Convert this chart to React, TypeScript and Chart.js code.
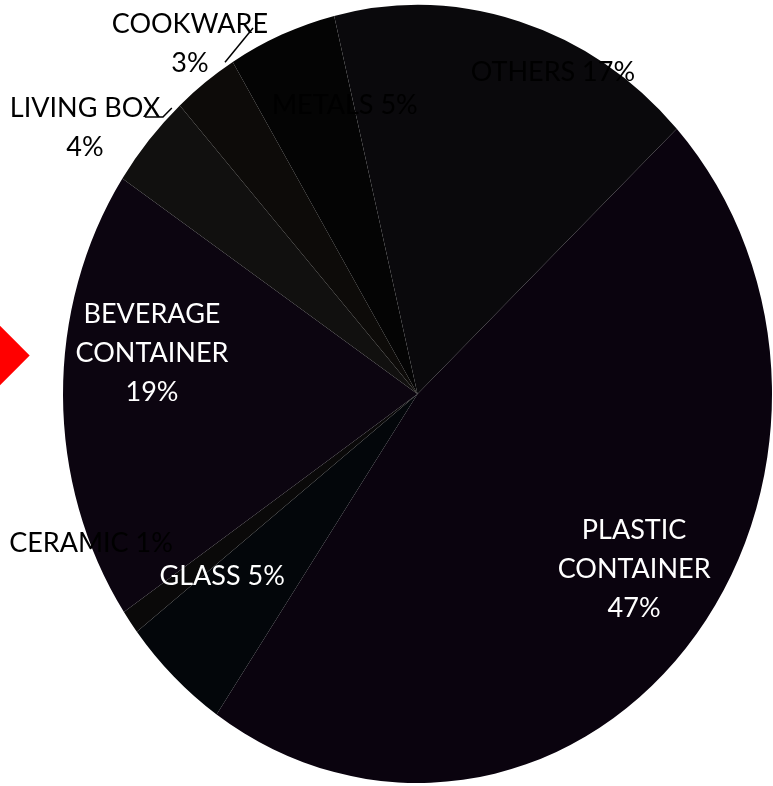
import React, { useEffect, useRef } from "react";
import { Chart, registerables } from "chart.js";

Chart.register(...registerables);

const categories = [
  "PLASTIC CONTAINER",
  "GLASS",
  "CERAMIC",
  "BEVERAGE CONTAINER",
  "LIVING BOX",
  "COOKWARE",
  "METALS",
  "OTHERS",
];
const shares = [47, 5, 1, 19, 4, 3, 5, 17];
const labelLines = [
  ["PLASTIC", "CONTAINER", "47%"],
  ["GLASS 5%"],
  ["CERAMIC 1%"],
  ["BEVERAGE", "CONTAINER", "19%"],
  ["LIVING BOX", "4%"],
  ["COOKWARE", "3%"],
  ["METALS 5%"],
  ["OTHERS 17%"],
];
const sliceColors = [
  "#0a030e",
  "#03060a",
  "#0a0909",
  "#0c0510",
  "#11100f",
  "#0d0b09",
  "#040404",
  "#0a090c",
];
const labelColors = ["#ffffff", "#ffffff", "#000000", "#ffffff", "#000000", "#000000", "#000000", "#000000"];

// label block centres, as fractions of the pie's horizontal / vertical radius
const labelAnchors = [
  [0.611, 0.445],
  [-0.551, 0.463],
  [-0.921, 0.378],
  [-0.749, -0.111],
  [-0.938, -0.689],
  [-0.642, -0.905],
  [-0.205, -0.748],
  [0.382, -0.833],
];
// leader lines (fractions of radii)
const leaders: Record<number, number[][]> = {
  4: [[-0.769, -0.712], [-0.718, -0.712], [-0.693, -0.735]],
  5: [[-0.464, -0.941], [-0.543, -0.853]],
};

const X_SQUEEZE = 0.9113;
const LINE_H = 39;

const ellipsePlugin = {
  id: "ellipse",
  beforeDatasetsDraw(chart: any) {
    const arc = chart.getDatasetMeta(0).data[0];
    if (!arc) return;
    const ctx = chart.ctx;
    ctx.save();
    ctx.translate(arc.x, arc.y);
    ctx.scale(X_SQUEEZE, 1);
    ctx.translate(-arc.x, -arc.y);
  },
  afterDatasetsDraw(chart: any) {
    chart.ctx.restore();
  },
};

const labelPlugin = {
  id: "sliceLabels",
  afterDraw(chart: any) {
    const meta = chart.getDatasetMeta(0);
    const arc = meta.data[0];
    if (!arc) return;
    const ctx = chart.ctx;
    const cx = arc.x;
    const cy = arc.y;
    const ry = arc.outerRadius;
    const rx = ry * X_SQUEEZE;
    ctx.save();
    ctx.font = "27px Lato";
    ctx.textAlign = "center";
    ctx.textBaseline = "middle";
    labelLines.forEach((lines, i) => {
      const [fx, fy] = labelAnchors[i];
      const x = cx + fx * rx;
      const y = cy + fy * ry;
      ctx.fillStyle = labelColors[i];
      const top = y - ((lines.length - 1) * LINE_H) / 2;
      lines.forEach((t, k) => ctx.fillText(t, x, top + k * LINE_H + 2));
    });
    ctx.strokeStyle = "#000";
    ctx.lineWidth = 1.5;
    Object.keys(leaders).forEach((key) => {
      const pts = leaders[Number(key)];
      ctx.beginPath();
      pts.forEach(([fx, fy], k) => {
        const px = cx + fx * rx;
        const py = cy + fy * ry;
        if (k === 0) ctx.moveTo(px, py);
        else ctx.lineTo(px, py);
      });
      ctx.stroke();
    });
    ctx.restore();
  },
};

export default function App() {
  const ref = useRef<HTMLCanvasElement | null>(null);
  useEffect(() => {
    if (!ref.current) return;
    const chart = new Chart(ref.current, {
      type: "pie",
      data: {
        labels: categories,
        datasets: [
          {
            data: shares,
            backgroundColor: sliceColors,
            borderWidth: 0,
            radius: 389,
          } as any,
        ],
      },
      options: {
        animation: false,
        responsive: true,
        maintainAspectRatio: false,
        rotation: 47,
        layout: { padding: { left: 62, right: 0, top: 2, bottom: 0 } },
        plugins: {
          legend: { display: false },
          tooltip: { enabled: false },
        },
        events: [],
      },
      plugins: [ellipsePlugin, labelPlugin],
    });
    return () => chart.destroy();
  }, []);
  return (
    <div
      style={{
        position: "absolute",
        left: 0,
        top: 0,
        width: 773,
        height: 786,
        overflow: "hidden",
        background: "#ffffff",
      }}
    >
      <div
        style={{
          position: "absolute",
          left: -56,
          top: 320,
          width: 71,
          height: 71,
          background: "#ff0000",
          transform: "rotate(45deg)",
        }}
      />
      <div style={{ position: "absolute", left: 0, top: 0, width: 773, height: 786 }}>
        <canvas ref={ref} />
      </div>
    </div>
  );
}
